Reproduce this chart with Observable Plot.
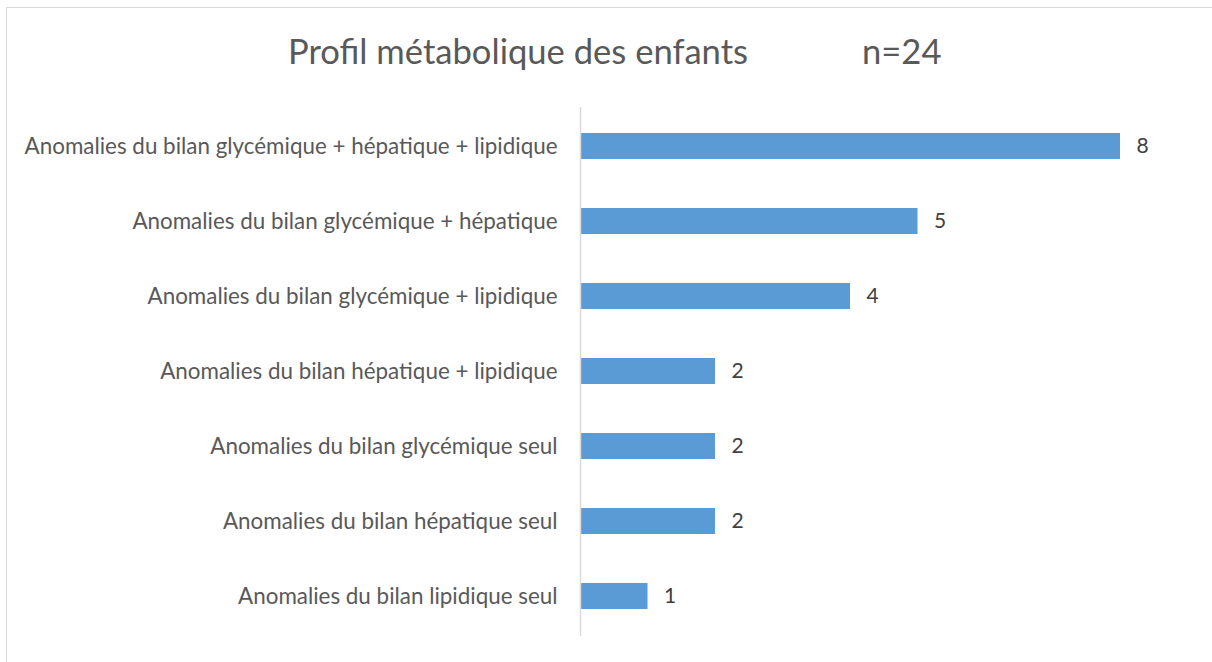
<!DOCTYPE html>
<html>
<head>
<meta charset="utf-8">
<script src="https://cdn.jsdelivr.net/npm/d3@7"></script>
<script src="https://cdn.jsdelivr.net/npm/@observablehq/plot@0.6"></script>
<style>
  html, body { margin: 0; padding: 0; background: #fff; overflow: hidden; }
  #wrap { position: relative; width: 1212px; height: 662px; font-family: Lato, "Open Sans", sans-serif; }
  #frame { position: absolute; left: 6px; top: 7px; width: 1300px; height: 800px; border: 1.5px solid #d9d9d9; box-sizing: border-box; }
  .title { position: absolute; top: 31px; font-size: 34.6px; color: #595959; white-space: nowrap; line-height: 40px; }
  #chart { position: absolute; left: 0; top: 0; }
</style>
</head>
<body>
<div id="wrap">
  <div id="frame"></div>
  <div id="chart"></div>
  <div class="title" id="t1" style="left:288px">Profil métabolique des enfants</div>
  <div class="title" id="t2" style="left:862px">n=24</div>
</div>
<script>
const categories = [
  "Anomalies du bilan glycémique + hépatique + lipidique",
  "Anomalies du bilan glycémique + hépatique",
  "Anomalies du bilan glycémique + lipidique",
  "Anomalies du bilan hépatique + lipidique",
  "Anomalies du bilan glycémique seul",
  "Anomalies du bilan hépatique seul",
  "Anomalies du bilan lipidique seul"
];
const values = [8, 5, 4, 2, 2, 2, 1];
const data = categories.map((c, i) => ({category: c, value: values[i]}));

const chart = Plot.plot({
  width: 1212,
  height: 662,
  marginLeft: 580,
  marginRight: 92,
  marginTop: 107,
  marginBottom: 26,
  style: {fontFamily: "Lato, 'Open Sans', sans-serif", background: "transparent", color: "#595959"},
  x: {domain: [0, 8], axis: null},
  y: {domain: categories, paddingInner: 0.65, paddingOuter: 0.325, label: null},
  axis: null,
  marks: [
    Plot.axisY({tickSize: 0, tickPadding: 23, fontSize: 22.4, fill: "#595959", label: null}),
    Plot.barX(data, {x: "value", y: "category", fill: "#5b9bd5"}),
    Plot.ruleX([0], {stroke: "#d9d9d9", strokeWidth: 1.5}),
    Plot.text(data, {x: "value", y: "category", text: d => String(d.value), dx: 16, textAnchor: "start", fontSize: 21, fill: "#404040"})
  ]
});
document.getElementById("chart").appendChild(chart);
</script>
</body>
</html>
